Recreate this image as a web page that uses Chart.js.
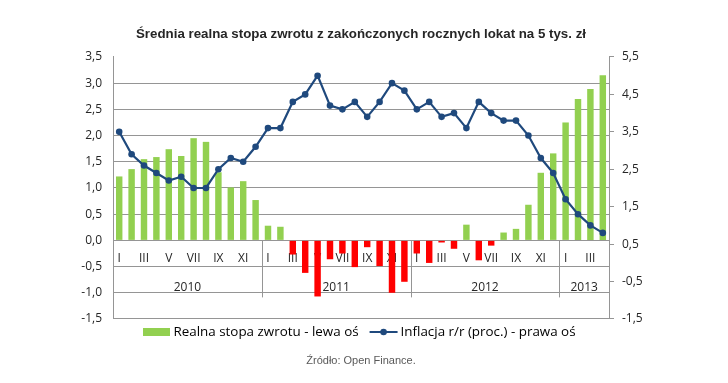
<!DOCTYPE html>
<html><head><meta charset="utf-8">
<script src="https://cdn.jsdelivr.net/npm/chart.js@4/dist/chart.umd.min.js"></script>
<style>html,body{margin:0;padding:0;background:#fff;}</style>
</head><body>
<canvas id="c" width="728" height="383"></canvas>
<script>
// ---- DATA ----
const monthLabels = ['I','II','III','IV','V','VI','VII','VIII','IX','X','XI','XII',
                     'I','II','III','IV','V','VI','VII','VIII','IX','X','XI','XII',
                     'I','II','III','IV','V','VI','VII','VIII','IX','X','XI','XII',
                     'I','II','III','IV'];
const years = ['2010','2011','2012','2013'];
const yearSpans = [12,12,12,4];
const realReturn = [1.22,1.36,1.55,1.59,1.74,1.61,1.95,1.88,1.30,1.01,1.13,0.77,
                    0.28,0.26,-0.27,-0.62,-1.07,-0.36,-0.25,-0.51,-0.13,-0.49,-1.00,-0.79,
                    -0.25,-0.43,-0.04,-0.16,0.30,-0.38,-0.10,0.15,0.22,0.68,1.29,1.66,
                    2.25,2.70,2.89,3.15];
const inflation = [3.5,2.9,2.6,2.4,2.2,2.3,2.0,2.0,2.5,2.8,2.7,3.1,
                   3.6,3.6,4.3,4.5,5.0,4.2,4.1,4.3,3.9,4.3,4.8,4.6,
                   4.1,4.3,3.9,4.0,3.6,4.3,4.0,3.8,3.8,3.4,2.8,2.4,
                   1.7,1.3,1.0,0.8];
const leftTicks = [-1.5,-1.0,-0.5,0.0,0.5,1.0,1.5,2.0,2.5,3.0,3.5];
const rightTicks = [-1.5,-0.5,0.5,1.5,2.5,3.5,4.5,5.5];
const seriesNames = ['Realna stopa zwrotu - lewa oś','Inflacja r/r (proc.) - prawa oś'];
const titleText = 'Średnia realna stopa zwrotu z zakończonych rocznych lokat na 5 tys. zł';
const sourceText = 'Źródło: Open Finance.';

// ---- STYLE ----
const GREEN = '#92D050', RED = '#FF0000', NAVY = '#1F497D', GRID = '#959595';
const fmt = v => Number(v).toFixed(1).replace('.', ',');

const monthAxis = {
  id: 'monthAxis',
  beforeDatasetsDraw(chart){
    const {ctx, scales:{x, y}} = chart;
    const y0 = y.getPixelForValue(0);
    ctx.save();
    ctx.fillStyle = '#262626';
    ctx.font = '12px "Open Sans"';
    ctx.textAlign = 'center'; ctx.textBaseline = 'middle';
    monthLabels.forEach((m,i) => { if (i % 2 === 0) ctx.fillText(m, x.getPixelForValue(i), y0 + 18); });
    ctx.strokeStyle = GRID; ctx.lineWidth = 1;
    let start = 0;
    years.forEach((yr,k) => {
      const end = start + yearSpans[k] - 1;
      const cx = (x.getPixelForValue(start) + x.getPixelForValue(end)) / 2;
      ctx.fillText(yr, cx, y0 + 47);
      if (k > 0) {
        const sx = Math.round((x.getPixelForValue(start-1) + x.getPixelForValue(start)) / 2) + 0.5;
        ctx.beginPath(); ctx.moveTo(sx, y0); ctx.lineTo(sx, y0 + 57); ctx.stroke();
      }
      start = end + 1;
    });
    ctx.restore();
  }
};

const customLegend = {
  id: 'customLegend',
  afterDraw(chart){
    const {ctx, chartArea} = chart;
    ctx.save();
    ctx.font = '13.4px "Open Sans"';
    ctx.textBaseline = 'middle'; ctx.textAlign = 'left';
    const t1 = ctx.measureText(seriesNames[0]).width;
    const t2 = ctx.measureText(seriesNames[1]).width;
    const total = 27 + 3 + t1 + 11 + 28 + 3 + t2;
    let x = (chartArea.left + chartArea.right) / 2 - 1.5 - total / 2;
    const yc = chartArea.bottom + 13;
    ctx.fillStyle = GREEN; ctx.fillRect(Math.round(x), Math.round(yc - 4), 27, 8);
    x += 30;
    ctx.fillStyle = '#000'; ctx.fillText(seriesNames[0], x, yc);
    x += t1 + 11;
    ctx.strokeStyle = NAVY; ctx.lineWidth = 2;
    ctx.beginPath(); ctx.moveTo(x, yc); ctx.lineTo(x + 28, yc); ctx.stroke();
    ctx.fillStyle = NAVY; ctx.beginPath(); ctx.arc(x + 14, yc, 3.3, 0, Math.PI * 2); ctx.fill();
    x += 31;
    ctx.fillStyle = '#000'; ctx.fillText(seriesNames[1], x, yc);
    ctx.restore();
  }
};

new Chart(document.getElementById('c'), {
  data: {
    labels: monthLabels,
    datasets: [
      { type:'line', label: seriesNames[1], data: inflation, yAxisID:'y1',
        borderColor: NAVY, backgroundColor: NAVY, borderWidth: 2.2,
        pointRadius: 3.3, pointBackgroundColor: NAVY, pointBorderColor: NAVY, pointBorderWidth: 0,
        tension: 0 },
      { type:'bar', label: seriesNames[0], data: realReturn, yAxisID:'y',
        backgroundColor: realReturn.map(v => v >= 0 ? GREEN : RED),
        barPercentage: 0.52, categoryPercentage: 1.0 }
    ]
  },
  options: {
    responsive: false, animation: false,
    layout: { padding: { left: 0, right: 0, top: 0, bottom: 0 } },
    plugins: {
      tooltip: { enabled: false },
      legend: { display: false },
      title: { display: true, fullSize: false, text: titleText, color: '#262626',
        font: { family: "'Liberation Sans',Arial", size: 13.3, weight: 'bold' },
        padding: { top: 26, bottom: 15 } },
      subtitle: { display: true, fullSize: false, position: 'bottom', text: sourceText, color: '#595959',
        font: { family: "'Liberation Sans',Arial", size: 11 },
        padding: { top: 35.4, bottom: 15.4 } }
    },
    scales: {
      x: { type: 'category', display: false, offset: true },
      y: { position: 'left', min: -1.5, max: 3.5,
        afterBuildTicks: s => { s.ticks = leftTicks.map(v => ({ value: v })); },
        afterFit: s => { s.width = 113; },
        grid: { drawTicks: false, color: c => (c.tick && c.tick.value === 3.5) ? 'rgba(0,0,0,0)' : GRID },
        border: { display: true, color: GRID },
        ticks: { padding: 11, color: '#262626', font: { family: "'Open Sans'", size: 12 }, callback: v => fmt(v) } },
      y1: { position: 'right', min: -1.5, max: 5.5,
        afterBuildTicks: s => { s.ticks = rightTicks.map(v => ({ value: v })); },
        afterFit: s => { s.width = 119; },
        grid: { drawOnChartArea: false, drawTicks: true, tickLength: 5, color: GRID },
        border: { display: true, color: GRID },
        ticks: { padding: 8, color: '#262626', font: { family: "'Open Sans'", size: 12 }, callback: v => fmt(v) } }
    }
  },
  plugins: [monthAxis, customLegend]
});
</script>
</body></html>
